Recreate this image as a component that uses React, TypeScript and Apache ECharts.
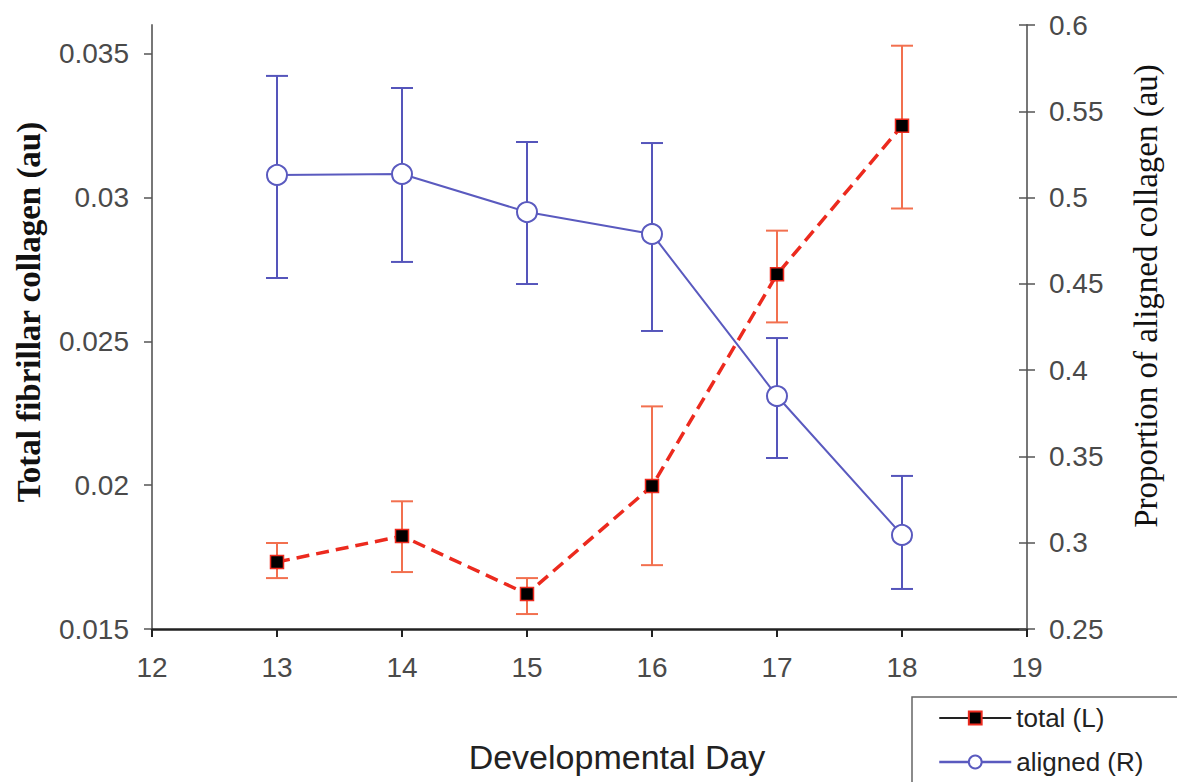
import React, { useEffect, useRef } from "react";
import * as echarts from "echarts";

const days = [13, 14, 15, 16, 17, 18];
const totalMean = [0.01733, 0.01823, 0.01622, 0.01997, 0.02733, 0.0325];
const totalLow = [0.01677, 0.01698, 0.01552, 0.01722, 0.02566, 0.02962];
const totalHigh = [0.01799, 0.01944, 0.01677, 0.02274, 0.02885, 0.03528];
const alignedMean = [0.5131, 0.5137, 0.4916, 0.4789, 0.385, 0.3045];
const alignedLow = [0.4534, 0.4627, 0.4499, 0.4227, 0.3491, 0.2732];
const alignedHigh = [0.5705, 0.5635, 0.5322, 0.5316, 0.4186, 0.3387];
const leftTicks = [0.015, 0.02, 0.025, 0.03, 0.035];

const xTitle = "Developmental Day";
const leftTitle = "Total fibrillar collagen (au)";
const rightTitle = "Proportion of aligned collagen (au)";

const RED = "#ec2a1e";
const RED_ERR = "#f2704f";
const BLUE = "#5a5abf";
const BLUE_ERR = "#5555bb";
const SANS = "Liberation Sans, Arial, sans-serif";
const SERIF = "Liberation Serif, Times New Roman, serif";

function errRender(color: string) {
  return (params: any, api: any) => {
    const x = api.value(0);
    const lo = api.coord([x, api.value(1)]);
    const hi = api.coord([x, api.value(2)]);
    const w = 11;
    const style = { stroke: color, lineWidth: 2, fill: "none" };
    return {
      type: "group",
      children: [
        { type: "line", shape: { x1: lo[0], y1: lo[1], x2: hi[0], y2: hi[1] }, style },
        { type: "line", shape: { x1: lo[0] - w, y1: lo[1], x2: lo[0] + w, y2: lo[1] }, style },
        { type: "line", shape: { x1: hi[0] - w, y1: hi[1], x2: hi[0] + w, y2: hi[1] }, style },
      ],
    };
  };
}

export default function App() {
  const ref = useRef<HTMLDivElement>(null);
  useEffect(() => {
    const chart = echarts.init(ref.current!, null, { renderer: "svg" });
    const labelStyle = { color: "#4a4a4a", fontSize: 28, fontFamily: SANS };
    chart.setOption({
      animation: false,
      backgroundColor: "#fff",
      grid: { left: 152, right: 150, top: 25, bottom: 153, containLabel: false },
      xAxis: {
        type: "value",
        min: 12,
        max: 19,
        interval: 1,
        splitLine: { show: false },
        axisLine: { lineStyle: { color: "#222", width: 2.5 } },
        axisTick: { show: true, inside: false, length: 8, lineStyle: { color: "#222", width: 2 } },
        axisLabel: { ...labelStyle, margin: 24 },
      },
      yAxis: [
        {
          type: "value",
          min: 0.015,
          max: 0.036,
          position: "left",
          splitLine: { show: false },
          axisLine: { show: true, lineStyle: { color: "#777", width: 2 } },
          axisTick: { show: true, inside: false, length: 8, customValues: leftTicks, lineStyle: { color: "#555", width: 1.5 } },
          axisLabel: { ...labelStyle, margin: 23, customValues: leftTicks, formatter: (v: number) => String(+v.toFixed(3)) },
        },
        {
          type: "value",
          min: 0.25,
          max: 0.6,
          interval: 0.05,
          position: "right",
          splitLine: { show: false },
          axisLine: { show: true, lineStyle: { color: "#777", width: 2 } },
          axisTick: { show: true, inside: false, length: 8, lineStyle: { color: "#555", width: 1.5 } },
          axisLabel: { ...labelStyle, margin: 22, formatter: (v: number) => String(+v.toFixed(2)) },
        },
        {
          type: "value",
          min: 0.25,
          max: 0.6,
          interval: 0.05,
          position: "right",
          splitLine: { show: false },
          axisLine: { show: false },
          axisTick: { show: true, inside: true, length: 8, lineStyle: { color: "#555", width: 1.5 } },
          axisLabel: { show: false },
        },
      ],
      graphic: [
        {
          type: "text",
          x: 617,
          y: 757,
          style: { text: xTitle, fill: "#222", fontSize: 34, fontFamily: SANS, align: "center", verticalAlign: "middle" },
        },
        {
          type: "text",
          x: 29,
          y: 312,
          rotation: Math.PI / 2,
          style: { text: leftTitle, fill: "#111", fontSize: 33, fontWeight: "bold", fontFamily: SERIF, align: "center", verticalAlign: "middle" },
        },
        {
          type: "text",
          x: 1146,
          y: 296,
          rotation: Math.PI / 2,
          style: { text: rightTitle, fill: "#111", fontSize: 33, fontFamily: SERIF, align: "center", verticalAlign: "middle" },
        },
      ],
      legend: {
        left: 912,
        top: 697,
        height: 140,
        orient: "vertical",
        backgroundColor: "#fff",
        borderColor: "#666",
        borderWidth: 1.5,
        borderRadius: 0,
        padding: [8, 120, 30, 26],
        itemWidth: 72,
        itemHeight: 16,
        itemGap: 18,
        textStyle: { color: "#222", fontSize: 26, fontFamily: SANS },
        data: [
          { name: "total (L)", lineStyle: { color: "#222", type: "solid", width: 2 }, itemStyle: { color: "#000", borderColor: RED, borderWidth: 2 } },
          { name: "aligned (R)", lineStyle: { color: BLUE, width: 2.5 }, itemStyle: { color: "#fff", borderColor: BLUE, borderWidth: 2 } },
        ],
      },
      series: [
        {
          name: "aligned err",
          type: "custom",
          yAxisIndex: 1,
          renderItem: errRender(BLUE_ERR),
          data: days.map((d, i) => [d, alignedLow[i], alignedHigh[i]]),
          z: 1,
        },
        {
          name: "aligned (R)",
          type: "line",
          yAxisIndex: 1,
          data: days.map((d, i) => [d, alignedMean[i]]),
          symbol: "circle",
          symbolSize: 20,
          lineStyle: { color: BLUE, width: 2 },
          itemStyle: { color: "#fff", borderColor: BLUE, borderWidth: 2 },
          z: 2,
        },
        {
          name: "total err",
          type: "custom",
          yAxisIndex: 0,
          renderItem: errRender(RED_ERR),
          data: days.map((d, i) => [d, totalLow[i], totalHigh[i]]),
          z: 3,
        },
        {
          name: "total (L)",
          type: "line",
          yAxisIndex: 0,
          data: days.map((d, i) => [d, totalMean[i]]),
          symbol: "rect",
          symbolSize: 13,
          lineStyle: { color: RED, width: 3.5, type: [13, 7] },
          itemStyle: { color: "#000", borderColor: RED, borderWidth: 1.5 },
          z: 4,
        },
      ],
    });
    return () => chart.dispose();
  }, []);
  return <div ref={ref} style={{ width: 1177, height: 782, position: "absolute", left: 0, top: 0 }} />;
}
